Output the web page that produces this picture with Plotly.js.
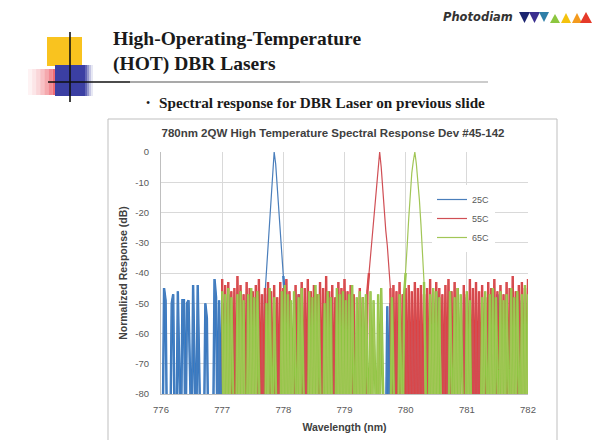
<!DOCTYPE html>
<html><head><meta charset="utf-8">
<script src="https://cdn.plot.ly/plotly-3.0.1.min.js"></script>
<style>html,body{margin:0;padding:0;background:#fff;}#chart{width:603px;height:440px;}</style>
</head><body><div id="chart"></div>
<script>
// ---- data ----
const seriesNames = ['25C', '55C', '65C'];
const lineColors = ['#4A7EBB', '#D04F55', '#A2C657'];   // legend / peak line colours
const fillColors = ['#3279C6', '#E04040', '#8DC641'];   // dense noise-floor colours
const startNm = [776, 777, 777];      // first wavelength of each scan (nm)
const stepNm = 0.025;                 // scan step (nm)
const db25C = [
 -99,-99,-45,-49,-99,-99,-99,-50,-47,-99,
 -99,-46,-99,-99,-49,-49,-99,-50,-49,-99,
 -99,-44,-99,-99,-44,-99,-99,-99,-99,-50,
 -55,-99,-99,-99,-99,-42,-48,-99,-49,-99,
 -50,-99,-99,-99,-47,-99,-99,-99,-99,-99,
 -99,-99,-46,-99,-99,-99,-99,-99,-99,-99,
 -48,-99,-99,-99,-99,-99,-99,-99,-47,-39,
 -31,-23,-14,-5,0,-4,-12,-19,-27,-34,
 -41,-48,-99,-99,-99,-99,-99,-99,-99,-99,
 -47,-99,-99,-99,-99,-99,-99,-99,-99,-99,
 -49,-99,-99,-99,-99,-99,-99,-99,-99,-99,
 -99,-99,-99,-99,-99,-99,-99,-99,-99,-99,
 -46,-99,-99,-99,-99,-99,-99,-99,-99,-99,
 -99,-99,-99,-99,-99,-99,-99,-99,-99,-99,
 -99,-99,-99,-99,-99,-99,-99,-99,-51,-99,
 -50,-99,-99,-99,-99,-99,-99,-99,-99,-99,
 -99,-99,-99,-99,-99,-99,-99,-99,-99,-99,
 -99,-99,-99,-99,-99,-99,-99,-99,-99,-99,
 -46,-99,-99,-99,-99,-99,-99,-99,-99,-99,
 -99,-99,-99,-99,-99,-99,-99,-99,-99,-99,
 -48,-99,-99,-99,-99,-99,-99,-99,-99,-99,
 -99,-99,-99,-99,-99,-99,-99,-99,-99,-99,
 -47,-99,-99,-99,-99,-99,-99,-99,-99,-99,
 -99,-99,-99,-99,-99,-99,-49,-99,-99,-99,
 -99
];
const db55C = [
 -42,-99,-44,-99,-43,-99,-46,-99,-45,-99,
 -41,-99,-44,-99,-47,-99,-43,-99,-45,-99,
 -46,-99,-44,-99,-42,-99,-47,-99,-45,-99,
 -43,-99,-46,-99,-44,-99,-48,-99,-43,-99,
 -45,-99,-42,-99,-46,-99,-99,-99,-44,-99,
 -47,-99,-43,-99,-45,-99,-42,-99,-46,-99,
 -44,-99,-47,-99,-43,-99,-45,-99,-41,-99,
 -46,-99,-44,-99,-48,-99,-43,-99,-45,-99,
 -42,-99,-46,-99,-44,-99,-47,-99,-99,-99,
 -45,-99,-48,-99,-99,-46,-40,-35,-30,-23,
 -16,-10,-4,0,-5,-13,-20,-26,-31,-38,
 -45,-99,-44,-99,-46,-99,-43,-99,-47,-99,
 -45,-99,-44,-99,-46,-99,-43,-99,-45,-99,
 -44,-99,-47,-99,-45,-99,-42,-99,-46,-99,
 -43,-99,-45,-99,-47,-99,-44,-99,-42,-99,
 -46,-99,-43,-99,-45,-99,-99,-99,-44,-99,
 -47,-99,-42,-99,-45,-99,-43,-99,-46,-99,
 -44,-99,-48,-99,-43,-99,-45,-99,-42,-99,
 -46,-99,-44,-99,-47,-99,-43,-99,-45,-99,
 -41,-99,-46,-99,-44,-99,-43,-99,-45,-99,
 -42
];
const db65C = [
 -46,-99,-47,-99,-45,-99,-48,-99,-99,-99,
 -47,-99,-46,-99,-49,-99,-99,-47,-99,-45,
 -99,-48,-99,-46,-99,-99,-99,-99,-99,-50,
 -99,-45,-99,-99,-48,-99,-99,-99,-99,-46,
 -99,-44,-99,-47,-99,-49,-99,-46,-99,-99,
 -48,-99,-45,-99,-99,-99,-99,-46,-99,-48,
 -99,-44,-99,-47,-99,-99,-99,-50,-99,-46,
 -99,-48,-99,-99,-99,-45,-99,-47,-99,-46,
 -99,-49,-99,-47,-99,-44,-99,-99,-48,-99,
 -46,-99,-48,-99,-47,-99,-99,-46,-99,-49,
 -99,-99,-47,-99,-45,-99,-99,-99,-99,-99,
 -99,-48,-99,-99,-99,-99,-47,-99,-99,-47,
 -40,-31,-22,-14,-7,-3,0,-4,-9,-16,
 -24,-34,-43,-99,-99,-99,-47,-99,-45,-99,
 -46,-99,-48,-99,-99,-99,-99,-99,-99,-46,
 -99,-99,-48,-99,-45,-99,-47,-99,-99,-99,
 -46,-99,-49,-99,-99,-99,-99,-99,-99,-99,
 -48,-99,-46,-99,-99,-47,-99,-45,-99,-48,
 -99,-99,-46,-99,-49,-99,-47,-99,-99,-45,
 -99,-48,-99,-46,-99,-99,-47,-99,-44,-99,
 -47
];
const xTicks = [776, 777, 778, 779, 780, 781, 782];
const yTickVals = [0, -10, -20, -30, -40, -50, -60, -70, -80];
const yTickLabels = ['0', '-10', '-20', '-30', '-40', '-50', '-60', '-70', '-80'];
const seriesData = [db25C, db55C, db65C];
const noiseTop = -40;   // values above this belong to the laser peak

// ---- geometry helpers (plot area in page pixels) ----
const PL = 161, PR = 528, PT = 152, PB = 394;
const fx = px => (px - PL) / (PR - PL);
const fy = py => (PB - py) / (PB - PT);

const traces = [];
seriesNames.forEach((name, k) => {
  // dense noise floor: drawn with a heavier stroke so the very dense scan reads as solid
  traces.push({type: 'scatter', mode: 'lines', name: name, legendgroup: name, showlegend: false,
    x0: startNm[k], dx: stepNm, y: seriesData[k].map(v => v > noiseTop ? null : v),
    line: {color: fillColors[k], width: 2.4}, hoverinfo: 'skip'});
  // the full spectrum as a thin line (shows the peak)
  traces.push({type: 'scatter', mode: 'lines', name: name, legendgroup: name, showlegend: true,
    x0: startNm[k], dx: stepNm, y: seriesData[k],
    line: {color: lineColors[k], width: 1.2}, hoverinfo: 'skip'});
});

const shapes = [];
function rect(x0, y0, x1, y1, color, opacity) {
  shapes.push({type: 'rect', xref: 'paper', yref: 'paper', x0: fx(x0), x1: fx(x1), y0: fy(y1), y1: fy(y0),
    fillcolor: color, opacity: opacity === undefined ? 1 : opacity, line: {width: 0}});
}
function seg(x0, y0, x1, y1, color, w) {
  shapes.push({type: 'line', xref: 'paper', yref: 'paper', x0: fx(x0), x1: fx(x1), y0: fy(y0), y1: fy(y1),
    line: {color: color, width: w}});
}
function tri(pts, color) {
  const d = 'M' + pts.map(p => fx(p[0]) + ',' + fy(p[1])).join(' L') + ' Z';
  shapes.push({type: 'path', xref: 'paper', yref: 'paper', path: d, fillcolor: color, line: {width: 0}});
}
// chart frame
shapes.push({type: 'rect', xref: 'paper', yref: 'paper', x0: fx(108), x1: fx(557), y0: fy(450), y1: fy(119),
  line: {color: '#BFBFBF', width: 1}, fillcolor: 'rgba(0,0,0,0)', layer: 'below'});
// slide decoration: red fading block
const redOp = [0.06, 0.12, 0.2, 0.3, 0.42, 0.56, 0.72, 0.86, 1];
redOp.forEach((o, i) => rect(28 + i * 4.1, 69, 28 + (i + 1) * 4.1, 95, '#E8313F', o));
rect(47, 37, 82, 66, '#F9C31F');
rect(55, 65, 85, 96, '#3B3FA3');
[0.8, 0.55, 0.3, 0.12].forEach((o, i) => rect(85 + i * 2, 65, 87 + i * 2, 96, '#3B3FA3', o));
seg(70, 32, 70, 102, '#111', 1.6);
seg(48, 82, 130, 82, '#111', 1.6);
seg(130, 82, 300, 82, '#555', 1.1);
seg(300, 82, 488, 82, '#999', 1);
// logo waves
tri([[519,12],[530,12],[524.5,23]], '#1c2570');
tri([[529,12],[540,12],[534.5,23]], '#3a2f8f');
tri([[539,12],[549,12],[544,22]], '#2f7fa8');
tri([[550,23],[560,23],[555,14]], '#8cc63f');
tri([[561,23],[571,23],[566,13]], '#f4c20d');
tri([[572,23],[582,23],[577,13]], '#f39a1e');
tri([[580,23],[592,23],[586,12]], '#e53a2a');

const serif = 'Liberation Serif, Times New Roman, serif';
const annotations = [
  {text: '<b>High-Operating-Temperature</b>', x: fx(111), y: fy(39), xanchor: 'left', yanchor: 'middle',
   font: {family: serif, size: 19.5, color: '#1a1a1a'}},
  {text: '<b>(HOT) DBR Lasers</b>', x: fx(111), y: fy(64), xanchor: 'left', yanchor: 'middle',
   font: {family: serif, size: 19.5, color: '#1a1a1a'}},
  {text: '•', x: fx(144), y: fy(103), xanchor: 'left', yanchor: 'middle',
   font: {family: serif, size: 12, color: '#1a1a1a'}},
  {text: '<b>Spectral response for DBR Laser on previous slide</b>', x: fx(157), y: fy(103), xanchor: 'left', yanchor: 'middle',
   font: {family: serif, size: 15.2, color: '#1a1a1a'}},
  {text: '<b><i>Photodiam</i></b>', x: fx(441), y: fy(17), xanchor: 'left', yanchor: 'middle',
   font: {family: 'DejaVu Sans, sans-serif', size: 11.5, color: '#333'}}
].map(a => Object.assign({xref: 'paper', yref: 'paper', showarrow: false}, a));

const layout = {
  width: 603, height: 440,
  margin: {l: PL, r: 603 - PR, t: PT, b: 440 - PB, pad: 0},
  paper_bgcolor: '#fff', plot_bgcolor: '#fff',
  font: {family: 'Liberation Sans, Arial, sans-serif', color: '#595959'},
  showlegend: true,
  title: {text: '<b>780nm 2QW High Temperature Spectral Response Dev #45-142</b>',
    font: {size: 11.5, color: '#404040'}, xref: 'paper', yref: 'container',
    x: fx(333), xanchor: 'center', y: 1 - 133 / 440, yanchor: 'middle'},
  xaxis: {range: [776, 782], tickvals: xTicks, showgrid: true, gridcolor: '#D9D9D9', gridwidth: 1,
    showline: true, linecolor: '#BFBFBF', zeroline: false, ticks: '', ticklabelstandoff: 7,
    tickfont: {size: 9.5, color: '#595959'},
    title: {text: '<b>Wavelength (nm)</b>', font: {size: 10.5, color: '#404040'}, standoff: 9}},
  yaxis: {range: [-80, 0], tickvals: yTickVals, ticktext: yTickLabels, showgrid: true, gridcolor: '#D9D9D9',
    showline: true, linecolor: '#BFBFBF', zeroline: false, ticks: '', ticklabelstandoff: 9,
    tickfont: {size: 9.5, color: '#595959'},
    title: {text: '<b>Normalized Response (dB)</b>', font: {size: 10.5, color: '#404040'}, standoff: 5}},
  legend: {x: fx(432), y: fy(185), xanchor: 'left', yanchor: 'top', bgcolor: '#fff', borderwidth: 0,
    font: {size: 9, color: '#595959'}, itemwidth: 30, tracegroupgap: 0},
  shapes: shapes,
  annotations: annotations
};
Plotly.newPlot('chart', traces, layout, {staticPlot: true, displayModeBar: false});
</script></body></html>
